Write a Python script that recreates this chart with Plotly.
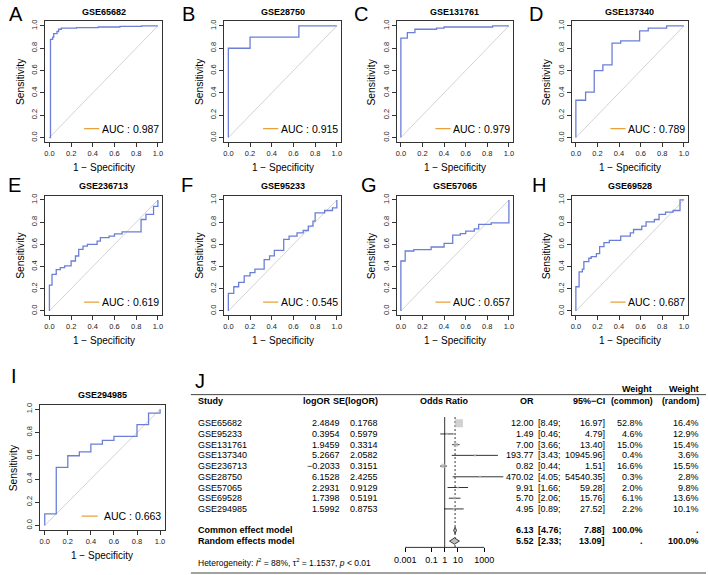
import numpy as np
import plotly.graph_objects as go

W, H = 708, 575
FONT = "Liberation Sans, Arial, Helvetica, sans-serif"

# ---------------- ROC data (knots of the step curves: level tpr ends at fpr) ----------------
titles = ["GSE65682", "GSE28750", "GSE131761", "GSE137340",
          "GSE236713", "GSE95233", "GSE57065", "GSE69528", "GSE294985"]
letters = ["A", "B", "C", "D", "E", "F", "G", "H", "I"]
auc_values = [0.987, 0.915, 0.979, 0.789, 0.619, 0.545, 0.657, 0.687, 0.663]

fpr_A = [0, 0.01, 0.03, 0.04, 0.07, 0.085, 0.11, 0.25, 0.45, 0.65, 0.85, 1.0]
tpr_A = [0, 0, 0.88, 0.90, 0.93, 0.95, 0.97, 0.98, 0.985, 0.99, 0.995, 1.0]

fpr_B = [0, 0.2, 0.65, 1.0]
tpr_B = [0, 0.8, 0.9, 1.0]

fpr_C = [0, 0.06, 0.13, 0.33, 0.40, 0.85, 1.0]
tpr_C = [0, 0.89, 0.94, 0.97, 0.98, 0.99, 1.0]

fpr_D = [0, 0.09, 0.17, 0.25, 0.335, 0.415, 0.59, 0.67, 0.84, 1.0]
tpr_D = [0, 0.334, 0.406, 0.60, 0.65, 0.845, 0.866, 0.955, 0.98, 1.0]

fpr_E = [0, 0.024, 0.063, 0.10, 0.14, 0.2, 0.24, 0.27, 0.31, 0.35, 0.44, 0.47,
         0.55, 0.6, 0.67, 0.845, 0.89, 0.96, 1.0, 1.0]
tpr_E = [0, 0.233, 0.33, 0.373, 0.39, 0.406, 0.45, 0.495, 0.555, 0.585, 0.6, 0.63,
         0.66, 0.675, 0.695, 0.713, 0.824, 0.87, 0.943, 1.0]

fpr_F = [0, 0.05, 0.095, 0.146, 0.2, 0.245, 0.33, 0.38, 0.424, 0.51, 0.56, 0.633,
         0.69, 0.737, 0.78, 0.8, 0.887, 0.96, 1.0, 1.0]
tpr_F = [0, 0.158, 0.218, 0.257, 0.316, 0.346, 0.376, 0.463, 0.496, 0.546, 0.645, 0.675,
         0.704, 0.725, 0.764, 0.81, 0.884, 0.905, 0.928, 1.0]

fpr_G = [0, 0.04, 0.12, 0.28, 0.40, 0.48, 0.55, 0.60, 0.68, 0.72, 0.836, 1.0, 1.0]
tpr_G = [0, 0.45, 0.54, 0.552, 0.576, 0.609, 0.684, 0.696, 0.72, 0.74, 0.78, 0.794, 1.0]

fpr_H = [0, 0.03, 0.06, 0.074, 0.12, 0.142, 0.19, 0.22, 0.26, 0.31, 0.415, 0.504,
         0.534, 0.61, 0.65, 0.727, 0.77, 0.83, 0.9, 0.964, 1.0]
tpr_H = [0, 0.218, 0.352, 0.376, 0.445, 0.475, 0.49, 0.516, 0.58, 0.615, 0.636, 0.675,
         0.704, 0.734, 0.764, 0.803, 0.824, 0.87, 0.89, 0.905, 1.0]

fpr_I = [0, 0.1, 0.2, 0.3, 0.4, 0.5, 0.6, 0.8, 0.9, 1.0, 1.0]
tpr_I = [0, 0.1, 0.5, 0.6, 0.633, 0.7, 0.733, 0.767, 0.867, 0.967, 1.0]

roc_fpr = [fpr_A, fpr_B, fpr_C, fpr_D, fpr_E, fpr_F, fpr_G, fpr_H, fpr_I]
roc_tpr = [tpr_A, tpr_B, tpr_C, tpr_D, tpr_E, tpr_F, tpr_G, tpr_H, tpr_I]
roc_ticks = [0.0, 0.2, 0.4, 0.6, 0.8, 1.0]

# ---------------- Meta-analysis data ----------------
study_names = ["GSE65682", "GSE95233", "GSE131761", "GSE137340", "GSE236713",
               "GSE28750", "GSE57065", "GSE69528", "GSE294985"]
log_or = [2.4849, 0.3954, 1.9459, 5.2667, -0.2033, 6.1528, 2.2931, 1.7398, 1.5992]
se_log_or = [0.1768, 0.5979, 0.3314, 2.0582, 0.3151, 2.4255, 0.9129, 0.5191, 0.8753]
or_est = [12.00, 1.49, 7.00, 193.77, 0.82, 470.02, 9.91, 5.70, 4.95]
or_lower = [8.49, 0.46, 3.66, 3.43, 0.44, 4.05, 1.66, 2.06, 0.89]
or_upper = [16.97, 4.79, 13.40, 10945.96, 1.51, 54540.35, 59.28, 15.76, 27.52]
weight_common = [52.8, 4.6, 15.0, 0.4, 16.6, 0.3, 2.0, 6.1, 2.2]
weight_random = [16.4, 12.9, 15.4, 3.6, 15.5, 2.8, 9.8, 13.6, 10.1]
model_names = ["Common effect model", "Random effects model"]
model_or = [6.13, 5.52]
model_lower = [4.76, 2.33]
model_upper = [7.88, 13.09]
model_w_common = ["100.0%", "."]
model_w_random = [".", "100.0%"]
forest_ticks = [0.001, 0.1, 1, 10, 1000]
forest_ticktext = ["0.001", "0.1", "1", "10", "1000"]
het_text = "Heterogeneity: <i>I</i><sup>2</sup> = 88%, τ<sup>2</sup> = 1.1537, <i>p</i> < 0.01"

# ---------------- layout geometry (pixels) ----------------
boxes = [(38.5, 19.5, 157, 140.5), (219.5, 19.5, 338, 140.5), (394, 19.5, 512, 140.5), (571, 19.5, 689, 140.5),
         (38.5, 194.2, 157, 314.5), (219.5, 194.2, 338, 314.5), (394, 194.2, 512, 314.5), (571, 194.2, 689, 314.5),
         (33.5, 404, 159.5, 530)]
letter_pos = [(9.5, 12.5), (184, 12.5), (358.5, 12.5), (535, 12.5),
              (8, 184), (182.5, 184), (366, 184), (538.5, 184), (7, 375)]
ylab_offset = [25, 25, 25, 25, 25, 25, 25, 25, 27.5]

ROC_COLOR = "#6B7FD7"
ORANGE = "#E9A23B"
BOX_COLOR = "#333333"

annotations = []
shapes = []
traces = []
layout = dict(width=W, height=H, margin=dict(l=0, r=0, t=0, b=0),
              paper_bgcolor="white", plot_bgcolor="white", showlegend=False,
              font=dict(family=FONT, color="black"))


def ann(text, x, y, xref="paper", yref="paper", xa="center", ya="middle", size=10,
        bold=False, angle=0, color="black"):
    annotations.append(dict(text=f"<b>{text}</b>" if bold else text, x=x, y=y, xref=xref, yref=yref,
                            xanchor=xa, yanchor=ya, showarrow=False, textangle=angle,
                            font=dict(size=size, family=FONT, color=color),
                            borderpad=0, borderwidth=0))


for k in range(9):
    n = k + 1
    sx = "" if n == 1 else str(n)
    xr, yr = "x" + sx, "y" + sx
    L, T, R, B = boxes[k]
    common_ax = dict(range=[-0.04, 1.04], tickvals=roc_ticks, ticktext=[f"{t:.1f}" for t in roc_ticks],
                     ticks="outside", ticklen=4, tickwidth=0.8, tickcolor=BOX_COLOR,
                     showline=True, mirror=True, linecolor=BOX_COLOR, linewidth=0.8,
                     showgrid=False, zeroline=False, tickfont=dict(size=7.5, color="#222"),
                     fixedrange=True)
    layout["xaxis" + sx] = dict(common_ax, domain=[L / W, R / W], anchor=yr)
    layout["yaxis" + sx] = dict(common_ax, domain=[1 - B / H, 1 - T / H], anchor=xr, tickangle=-90)

    traces.append(go.Scatter(x=[0, 1], y=[0, 1], xaxis=xr, yaxis=yr, mode="lines",
                             line=dict(color="#C8C8C8", width=0.8), hoverinfo="skip"))
    traces.append(go.Scatter(x=roc_fpr[k], y=roc_tpr[k], xaxis=xr, yaxis=yr, mode="lines",
                             line=dict(color=ROC_COLOR, width=1.3, shape="vh"), hoverinfo="skip"))
    traces.append(go.Scatter(x=[0.32, 0.46], y=[0.08, 0.08], xaxis=xr, yaxis=yr, mode="lines",
                             line=dict(color=ORANGE, width=1.2), hoverinfo="skip"))
    ann(f"AUC : {auc_values[k]:.3f}", 1.01, 0.08, xref=xr, yref=yr, xa="right", size=10.5)

    cx = (L + R) / 2 / W
    ann(titles[k], cx, 1 - (T - 9.5) / H, size=9, bold=True)
    ann("1 − Specificity", cx, 1 - (B + 25.5) / H, size=10)
    ann("Sensitivity", (L - ylab_offset[k]) / W, 1 - (T + B) / 2 / H, size=10.3, angle=-90)
    lx, ly = letter_pos[k]
    ann(letters[k], lx / W, 1 - ly / H, size=20)

# ---------------- Forest plot ----------------
ROW0, ROW_STEP = 422.7, 10.75   # pixel of first study row, pixels per row
OR1_PX, DEC_PX = 442.7, 13.33   # pixel of OR = 1, pixels per decade
FX_L, FX_R = 398, 502
FY_T, FY_B = 380, 575
AXIS_PX = 547.3


def row_of(px):
    return (px - ROW0) / ROW_STEP


layout["xaxis10"] = dict(domain=[FX_L / W, FX_R / W],
                         range=[(FX_L - OR1_PX) / DEC_PX, (FX_R - OR1_PX) / DEC_PX],
                         anchor="free", position=1 - AXIS_PX / H,
                         tickvals=list(np.log10(forest_ticks)), ticktext=forest_ticktext,
                         ticks="outside", ticklen=4, tickwidth=0.8, tickcolor="black",
                         showline=False, showgrid=False, zeroline=False,
                         tickfont=dict(size=9, color="black"), fixedrange=True)
layout["yaxis10"] = dict(domain=[1 - FY_B / H, 1 - FY_T / H],
                         range=[row_of(FY_B), row_of(FY_T)], anchor="x10",
                         visible=False, fixedrange=True)

rows = list(range(len(study_names)))
model_rows = [len(study_names) + 1, len(study_names) + 2]
fx = dict(xaxis="x10", yaxis="y10", hoverinfo="skip")

# reference lines
y_top, y_bot = row_of(416.5), row_of(AXIS_PX)
traces.append(go.Scatter(x=[0, 0], y=[y_top, y_bot], mode="lines",
                         line=dict(color="black", width=0.8), **fx))
traces.append(go.Scatter(x=[np.log10(model_or[0])] * 2, y=[y_top, y_bot], mode="lines",
                         line=dict(color="black", width=0.8, dash="2px,2px"), **fx))
traces.append(go.Scatter(x=[np.log10(forest_ticks[0]), np.log10(forest_ticks[-1])], y=[y_bot, y_bot],
                         mode="lines", line=dict(color="black", width=0.8), **fx))

# CI lines
cx_, cy_ = [], []
for i, (lo, hi) in enumerate(zip(or_lower, or_upper)):
    cx_ += [np.log10(lo), np.log10(hi), None]
    cy_ += [rows[i], rows[i], None]
traces.append(go.Scatter(x=cx_, y=cy_, mode="lines", line=dict(color="black", width=0.8), **fx))

# squares (area proportional to common-effect weight)
sizes = [max(8.0 * np.sqrt(w / max(weight_common)), 2.2) for w in weight_common]
traces.append(go.Scatter(x=np.log10(or_est), y=rows, mode="markers",
                         marker=dict(symbol="square", size=sizes, color="#BEBEBE", line=dict(width=0)), **fx))
# CI inside big squares drawn in white
wx, wy = [], []
for i, (e, lo, hi, s) in enumerate(zip(or_est, or_lower, or_upper, sizes)):
    half = s / 2 / DEC_PX
    if np.log10(lo) > np.log10(e) - half and np.log10(hi) < np.log10(e) + half:
        wx += [np.log10(lo), np.log10(hi), None]
        wy += [rows[i], rows[i], None]
if wx:
    traces.append(go.Scatter(x=wx, y=wy, mode="lines", line=dict(color="white", width=0.8), **fx))

# diamonds
for j in range(2):
    r = model_rows[j]
    lo, e, hi = np.log10(model_lower[j]), np.log10(model_or[j]), np.log10(model_upper[j])
    traces.append(go.Scatter(x=[lo, e, hi, e, lo], y=[r, r - 0.3, r, r + 0.3, r], mode="lines",
                             fill="toself", fillcolor="#BEBEBE", line=dict(color="black", width=0.7), **fx))

# text columns
FS = 9.0


def ftext(text, xpx, row, xa, bold=False, size=FS):
    ann(text, xpx / W, row, xref="paper", yref="y10", xa=xa, size=size, bold=bold)


hdr = row_of(400)
ftext("Study", 193, hdr, "left", True)
ftext("logOR", 327, hdr, "right", True)
ftext("SE(logOR)", 375, hdr, "right", True)
ftext("Odds Ratio", 443, hdr, "center", True)
ftext("OR", 533, hdr, "right", True)
ftext("95%−CI", 605, hdr, "right", True)
ftext("Weight", 652, row_of(388.5), "right", True)
ftext("Weight", 700, row_of(388.5), "right", True)
ftext("(common)", 653, hdr, "right", True, size=8.6)
ftext("(random)", 700, hdr, "right", True, size=8.6)

for i in range(len(study_names)):
    r = rows[i]
    ftext(study_names[i], 193, r, "left")
    ftext(f"{log_or[i]:.4f}".replace("-", "−"), 337, r, "right")
    ftext(f"{se_log_or[i]:.4f}", 375, r, "right")
    ftext(f"{or_est[i]:.2f}", 533, r, "right")
    ftext(f"[{or_lower[i]:.2f};", 537, r, "left")
    ftext(f"{or_upper[i]:.2f}]", 605, r, "right")
    ftext(f"{weight_common[i]:.1f}%", 643, r, "right")
    ftext(f"{weight_random[i]:.1f}%", 700, r, "right")

for j in range(2):
    r = model_rows[j]
    ftext(model_names[j], 193, r, "left", True)
    ftext(f"{model_or[j]:.2f}", 533, r, "right", True)
    ftext(f"[{model_lower[j]:.2f};", 537, r, "left", True)
    ftext(f"{model_upper[j]:.2f}]", 605, r, "right", True)
    ftext(model_w_common[j], 643, r, "right", True)
    ftext(model_w_random[j], 700, r, "right", True)

ftext(het_text, 193, row_of(562.5), "left", size=8.5)

ann("J", 195 / W, 1 - 380 / H, size=20)
for ypx in (394, 573):
    shapes.append(dict(type="line", xref="paper", yref="paper", x0=186 / W, x1=707 / W,
                       y0=1 - ypx / H, y1=1 - ypx / H, line=dict(color="#444", width=1)))

layout["annotations"] = annotations
layout["shapes"] = shapes
fig = go.Figure(data=traces, layout=layout)
fig.write_html("out.html")
